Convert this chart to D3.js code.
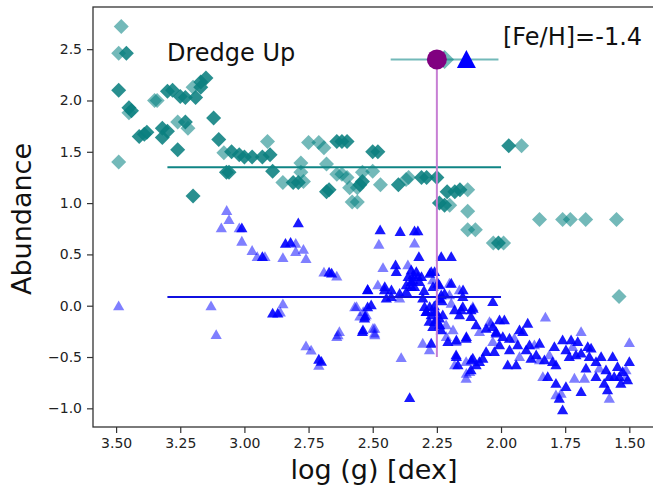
<!DOCTYPE html>
<html>
<head>
<meta charset="utf-8">
<script src="https://cdn.jsdelivr.net/npm/d3@7"></script>
<style>
  html, body { margin: 0; padding: 0; background: #fff; }
  svg { display: block; font-family: "DejaVu Sans", sans-serif; }
</style>
</head>
<body>
<svg id="chart" width="653" height="491"></svg>
<script>
// Tick values
const xTicks = [3.5, 3.25, 3.0, 2.75, 2.5, 2.25, 2.0, 1.75, 1.5];
const yTicks = [-1.0, -0.5, 0.0, 0.5, 1.0, 1.5, 2.0, 2.5];

// Dredge-up element (diamonds): strong and faint markers, [log g, abundance]
const tealDark = [
  [3.46,2.46],[3.49,2.10],[3.45,1.93],[3.44,1.90],[3.41,1.65],[3.39,1.67],[3.38,1.69],
  [3.32,1.73],[3.30,1.70],[3.32,1.64],[3.26,1.52],[3.30,2.09],[3.28,2.10],[3.25,2.04],
  [3.23,2.03],[3.19,2.03],[3.17,2.18],[3.15,2.22],[3.17,2.13],[3.23,1.79],[3.20,1.07],
  [3.12,1.83],[3.10,1.62],[3.05,1.50],[3.02,1.47],[3.00,1.45],[2.97,1.45],[2.93,1.45],
  [2.90,1.47],[3.07,1.30],[3.06,1.30],[2.89,1.31],[2.81,1.20],[2.79,1.20],[2.68,1.11],
  [2.67,1.13],[2.64,1.60],[2.62,1.60],[2.60,1.60],[2.55,1.18],[2.54,1.21],[2.50,1.50],
  [2.48,1.50],[2.40,1.18],[2.31,1.25],[2.29,1.25],[2.25,1.25],[2.21,1.11],[2.18,1.11],
  [2.16,1.13],[2.24,1.00],[2.22,0.98],[2.01,0.61],[1.97,1.56]
];
const tealLight = [
  [3.48,2.72],[3.49,2.46],[3.45,1.88],[3.35,2.00],[3.34,2.00],[3.49,1.40],[3.20,2.13],
  [3.26,1.79],[3.22,1.73],[3.08,1.49],[2.91,1.60],[2.85,1.20],[2.77,1.21],[2.78,1.39],
  [2.78,1.30],[2.75,1.59],[2.71,1.59],[2.69,1.54],[2.68,1.38],[2.64,1.28],[2.62,1.28],
  [2.60,1.25],[2.59,1.15],[2.56,1.15],[2.58,1.01],[2.56,1.01],[2.54,1.30],[2.50,1.31],
  [2.47,1.18],[2.37,1.23],[2.36,1.25],[2.13,1.13],[2.20,0.98],[2.13,0.92],[2.13,0.74],
  [2.10,0.74],[2.03,0.61],[1.99,0.61],[1.92,1.56],[1.85,0.84],[1.76,0.84],[1.73,0.84],
  [1.67,0.84],[1.55,0.84],[1.54,0.09]
];

// Comparison element (triangles): strong and faint markers, [log g, abundance]
const blueDark = [
  [3.01,0.76],[2.93,0.48],[2.79,0.81],[2.84,0.61],[2.82,0.62],[2.67,0.33],[2.66,0.32],
  [2.89,-0.07],[2.87,-0.07],[2.71,-0.52],[2.70,-0.54],[2.52,0.16],[2.53,-0.10],[2.54,-0.25],
  [2.52,-0.01],[2.471,0.741],[2.393,0.725],[2.337,0.731],[2.324,0.731],[2.320,0.481],
  [2.233,0.481],[2.194,0.481],[2.411,0.400],[2.408,0.335],[2.343,0.302],[2.350,0.237],
  [2.369,0.205],[2.324,0.286],[2.318,0.237],[2.337,0.188],[2.272,0.335],[2.519,0.156],
  [2.454,0.156],[2.428,0.091],[2.369,0.140],[2.240,0.205],[2.233,0.107],[2.149,0.091],
  [2.305,0.075],[2.292,-0.055],[2.298,-0.006],[2.272,-0.088],[2.259,-0.153],[2.240,-0.185],
  [2.253,-0.055],[2.227,-0.088],[2.266,-0.201],[2.233,-0.234],[2.506,0.010],[2.532,-0.120],
  [2.538,-0.234],[2.181,-0.039],[2.162,-0.088],[2.149,-0.006],[2.117,-0.039],[2.117,-0.104],
  [2.097,-0.185],[2.058,-0.218],[2.032,-0.201],[2.019,-0.266],[2.032,0.042],[2.272,-0.364],
  [2.207,-0.348],[2.136,-0.315],[2.175,-0.478],[2.168,-0.575],[2.110,-0.510],[2.097,-0.575],
  [2.084,-0.543],[2.071,-0.510],[2.058,-0.445],[2.117,-0.624],[2.356,-0.893],[2.109,-0.023],
  [2.148,0.156],[2.155,-0.039],[2.174,-0.332],[2.135,-0.299],[2.116,-0.527],[2.174,-0.494],
  [2.006,-0.136],[1.987,-0.136],[1.896,-0.169],[1.915,-0.250],[1.928,-0.234],[2.019,-0.250],
  [1.993,-0.299],[1.967,-0.315],[2.006,-0.380],[2.026,-0.445],[1.974,-0.575],[1.941,-0.575],
  [1.902,-0.429],[1.889,-0.380],[1.850,-0.364],[1.883,-0.510],[1.831,-0.526],[1.799,-0.543],
  [1.786,-0.575],[1.760,-0.331],[1.727,-0.331],[1.747,-0.429],[1.708,-0.477],[1.688,-0.461],
  [1.662,-0.396],[1.649,-0.412],[1.818,-0.689],[1.786,-0.754],[1.747,-0.786],[1.773,-0.900],
  [1.760,-1.013],[1.669,-0.607],[1.630,-0.543],[1.630,-0.689],[1.598,-0.754],[1.585,-0.819],
  [1.565,-0.494],[1.546,-0.591],[1.539,-0.689],[1.526,-0.640],[1.500,-0.543],[1.507,-0.721],
  [1.688,-0.835],[2.453,0.188],[2.427,0.156],[2.447,0.075],[2.23,0.05],[2.26,0.00],
  [2.24,-0.12],[2.28,-0.15],[2.30,0.15],[2.35,0.35],
  [2.395,0.123],[2.349,0.188],[2.343,0.253],[2.362,0.286],[2.330,0.334],[2.310,0.286],
  [2.278,0.318],[2.259,0.334],[2.265,0.188],[2.246,0.221],[2.220,0.123],[2.194,0.221],
  [2.239,0.074],[2.278,-0.007],[2.259,-0.056],[2.252,-0.137],[2.239,-0.185],[2.291,-0.056],
  [1.967,-0.429],[1.935,-0.380],[1.863,-0.477],[1.792,-0.396],[1.701,-0.348],[1.734,-0.494],
  [1.656,-0.494],[1.610,-0.494],[1.591,-0.624],[1.559,-0.689],[1.533,-0.754],[1.578,-0.689]
];
const blueLight = [
  [3.49,0.00],[3.069,0.93],[3.06,0.84],[3.09,0.76],[3.02,0.76],[3.01,0.63],[2.97,0.54],
  [2.95,0.48],[2.92,0.48],[2.80,0.61],[2.80,0.53],[2.77,0.55],[2.85,0.47],[2.76,0.46],
  [2.69,0.33],[2.64,0.29],[3.13,0.00],[3.11,-0.28],[2.86,-0.06],[2.85,0.02],[2.76,-0.39],
  [2.74,-0.43],[2.71,-0.58],[2.63,-0.25],[2.64,-0.30],[2.57,-0.01],[2.55,-0.10],
  [2.476,0.601],[2.337,0.611],[2.460,0.374],[2.363,0.400],[2.266,0.253],[2.480,0.205],
  [2.395,0.075],[2.201,0.221],[2.201,0.107],[2.162,0.156],[2.214,-0.185],[2.525,-0.088],
  [2.499,-0.218],[2.493,-0.266],[2.194,0.026],[2.110,-0.006],[2.084,-0.250],[2.045,-0.153],
  [2.305,-0.364],[2.279,-0.429],[2.389,-0.504],[2.175,-0.348],[2.136,-0.543],[2.136,-0.705],
  [2.563,-0.007],[2.537,-0.056],[2.635,-0.283],[2.492,-0.218],[2.492,-0.283],[2.187,-0.234],
  [2.213,-0.299],[2.135,-0.657],[2.122,-0.640],[2.181,-0.575],[2.039,-0.169],[1.827,-0.110],
  [1.688,-0.250],[1.500,-0.357],[1.948,-0.315],[2.032,-0.348],[1.928,-0.494],[1.870,-0.380],
  [1.850,-0.526],[1.812,-0.477],[1.721,-0.396],[1.837,-0.689],[1.766,-0.851],[1.786,-0.867],
  [1.617,-0.607],[1.578,-0.900],[1.513,-0.689],[1.513,-0.624],[1.714,-0.705],[1.675,-0.705]
];

// Mean levels over the fitted range
const meanRange = [3.30, 2.00];
const tealMean = 1.35;
const blueMean = 0.085;

// Reference star summary markers
const refY = 2.40;
const refCircleX = 2.25;
const refDiamondX = 2.22;
const refDiamondErr = [2.43, 2.01];
const refTriangleX = 2.135;
const refLineBottom = -0.50;

const svg = d3.select("#chart");
const plot = { left: 93, top: 7, right: 655, bottom: 427 };

const x = d3.scaleLinear().domain([3.59, 1.40]).range([plot.left, plot.right]);
const y = d3.scaleLinear().domain([-1.182, 2.911]).range([plot.bottom, plot.top]);

const diamond = "M0,-7.5L7.5,0L0,7.5L-7.5,0Z";
const triangle = "M0,-5.2L5.6,4.6L-5.6,4.6Z";

const g = svg.append("g");

// Diamonds
g.append("g").selectAll("path").data(tealLight).join("path")
  .attr("d", diamond)
  .attr("transform", d => `translate(${x(d[0])},${y(d[1])})`)
  .attr("fill", "#008080").attr("fill-opacity", 0.55);
g.append("g").selectAll("path").data(tealDark).join("path")
  .attr("d", diamond)
  .attr("transform", d => `translate(${x(d[0])},${y(d[1])})`)
  .attr("fill", "#0a807f").attr("fill-opacity", 0.88);

// Triangles
g.append("g").selectAll("path").data(blueLight).join("path")
  .attr("d", triangle)
  .attr("transform", d => `translate(${x(d[0])},${y(d[1])})`)
  .attr("fill", "#0000ff").attr("fill-opacity", 0.5);
g.append("g").selectAll("path").data(blueDark).join("path")
  .attr("d", triangle)
  .attr("transform", d => `translate(${x(d[0])},${y(d[1])})`)
  .attr("fill", "#0000ff").attr("fill-opacity", 0.9);

// Mean lines
g.append("line")
  .attr("x1", x(meanRange[0])).attr("x2", x(meanRange[1]))
  .attr("y1", y(tealMean)).attr("y2", y(tealMean))
  .attr("stroke", "#0f8585").attr("stroke-width", 2);
g.append("line")
  .attr("x1", x(meanRange[0])).attr("x2", x(meanRange[1]))
  .attr("y1", y(blueMean)).attr("y2", y(blueMean))
  .attr("stroke", "#1010e0").attr("stroke-width", 2);

// Reference star: vertical span, error bar and markers
g.append("line")
  .attr("x1", x(refCircleX)).attr("x2", x(refCircleX))
  .attr("y1", y(refY)).attr("y2", y(refLineBottom))
  .attr("stroke", "#c77fd4").attr("stroke-width", 2);
g.append("line")
  .attr("x1", x(refDiamondErr[0])).attr("x2", x(refDiamondErr[1]))
  .attr("y1", y(refY)).attr("y2", y(refY))
  .attr("stroke", "#008080").attr("stroke-opacity", 0.55).attr("stroke-width", 2);
g.append("path")
  .attr("d", "M0,-9.5L9.5,0L0,9.5L-9.5,0Z")
  .attr("transform", `translate(${x(refDiamondX)},${y(refY)})`)
  .attr("fill", "#008080").attr("fill-opacity", 0.55);
g.append("circle")
  .attr("cx", x(refCircleX)).attr("cy", y(refY)).attr("r", 10)
  .attr("fill", "#800080");
g.append("path")
  .attr("d", "M0,-9.5L9.5,8.5L-9.5,8.5Z")
  .attr("transform", `translate(${x(refTriangleX)},${y(refY)})`)
  .attr("fill", "#0000ff");

// Frame
svg.append("rect")
  .attr("x", plot.left).attr("y", plot.top)
  .attr("width", plot.right - plot.left).attr("height", plot.bottom - plot.top)
  .attr("fill", "none").attr("stroke", "#333").attr("stroke-width", 1.3);

// Axes
const xAxis = d3.axisBottom(x).tickValues(xTicks).tickFormat(d3.format(".2f"))
  .tickSize(6).tickPadding(5);
const yAxis = d3.axisLeft(y).tickValues(yTicks).tickFormat(d3.format(".1f"))
  .tickSize(6).tickPadding(5);

const gx = svg.append("g").attr("transform", `translate(0,${plot.bottom})`).call(xAxis);
const gy = svg.append("g").attr("transform", `translate(${plot.left},0)`).call(yAxis);
[gx, gy].forEach(a => {
  a.select(".domain").remove();
  a.selectAll(".tick line").attr("stroke", "#333").attr("stroke-width", 1.2);
  a.selectAll(".tick text").attr("fill", "#222")
    .style("font-family", "'DejaVu Sans', sans-serif").style("font-size", "14px");
});

// Labels
svg.append("text")
  .attr("x", 374).attr("y", 479).attr("text-anchor", "middle")
  .style("font-size", "27px").attr("fill", "#111")
  .text("log (g) [dex]");
svg.append("text")
  .attr("transform", "translate(31,219) rotate(-90)").attr("text-anchor", "middle")
  .style("font-size", "27px").attr("fill", "#111")
  .text("Abundance");
svg.append("text")
  .attr("x", 167).attr("y", 61)
  .style("font-size", "24px").attr("fill", "#111")
  .text("Dredge Up");
svg.append("text")
  .attr("x", 503).attr("y", 45)
  .style("font-size", "24px").attr("fill", "#111")
  .text("[Fe/H]=-1.4");
</script>
</body>
</html>
